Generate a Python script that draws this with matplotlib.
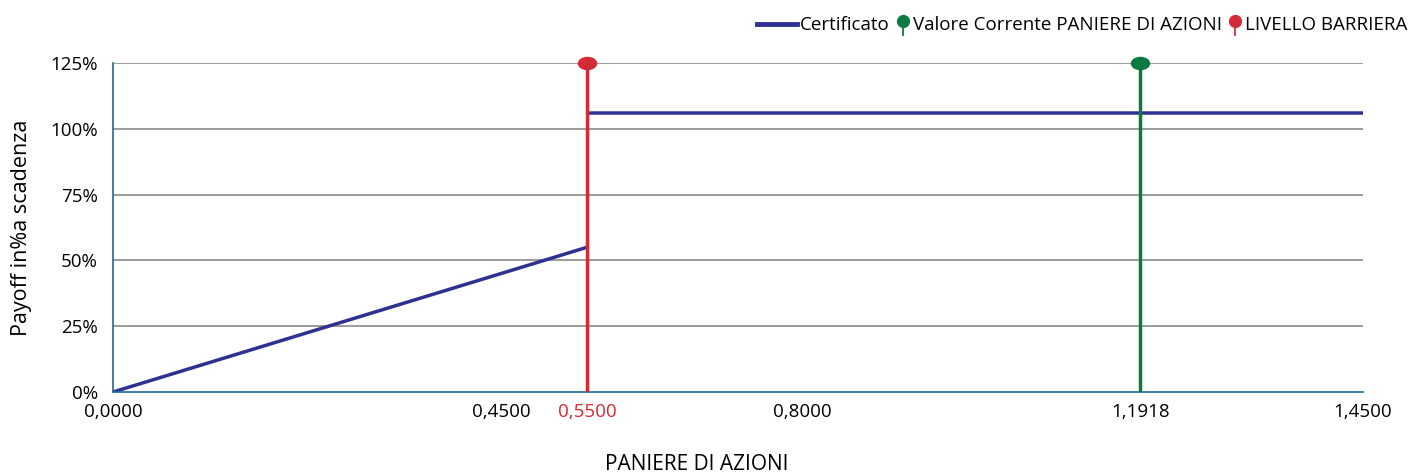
import matplotlib.pyplot as plt
import numpy as np
from matplotlib.path import Path
from matplotlib.transforms import Affine2D
from matplotlib.lines import Line2D
from matplotlib.legend_handler import HandlerBase

plt.rcParams["font.family"] = ["Open Sans", "DejaVu Sans"]

# data
cert_x = [0.0, 0.55, np.nan, 0.55, 1.45]
cert_y = [0.0, 0.55, np.nan, 1.06, 1.06]
barrier = 0.55
current = 1.1918
top_level = 1.25
x_ticks = [0.0, 0.45, 0.55, 0.8, 1.1918, 1.45]
x_labels = ["0,0000", "0,4500", "0,5500", "0,8000", "1,1918", "1,4500"]
y_ticks = [0, 0.25, 0.5, 0.75, 1.0, 1.25]
y_labels = ["0%", "25%", "50%", "75%", "100%", "125%"]

BLUE = "#2e3192"
RED = "#d42a34"
GREEN = "#0a7a40"
AXIS = "#1f6a92"
GRID = "#8a8a8a"

ellipse = Path.unit_circle().transformed(Affine2D().scale(1.5, 1.0))


class PinHandler(HandlerBase):
    def __init__(self, color):
        super().__init__()
        self.color = color

    def create_artists(self, legend, orig_handle, xdescent, ydescent,
                       width, height, fontsize, trans):
        cx = width / 2 - xdescent
        stem = Line2D([cx, cx], [-ydescent - 3, height * 0.6], color=self.color,
                      lw=1.3, transform=trans)
        head = Line2D([cx], [height * 0.75], marker="o", ms=8.5,
                      color=self.color, transform=trans)
        return [stem, head]


class LongLineHandler(HandlerBase):
    def create_artists(self, legend, orig_handle, xdescent, ydescent,
                       width, height, fontsize, trans):
        y = height / 2 - ydescent
        line = Line2D([-xdescent - 18, width - xdescent], [y, y], color=BLUE,
                      lw=3.5, transform=trans)
        return [line]


fig = plt.figure(figsize=(14.1, 4.72), dpi=100)
ax = fig.add_axes([113 / 1410, 1 - 392 / 472, 1250 / 1410, 329 / 472])

for t in y_ticks[1:]:
    ax.axhline(t, color=GRID, lw=1.2, zorder=1)

ax.plot([barrier, barrier], [0, top_level], color=RED, lw=2.5, zorder=3)
ax.plot([current, current], [0, top_level], color=GREEN, lw=2.5, zorder=3)
ax.plot([barrier], [top_level], marker=ellipse, ms=13, color=RED, zorder=4,
        clip_on=False)
ax.plot([current], [top_level], marker=ellipse, ms=13, color=GREEN, zorder=4,
        clip_on=False)
ax.plot(cert_x, cert_y, color=BLUE, lw=2.5, zorder=2, solid_capstyle="butt")

ax.set_xlim(0, 1.45)
ax.set_ylim(0, 1.25)
ax.set_xticks(x_ticks)
ax.set_xticklabels(x_labels, fontsize=13.5)
ax.get_xticklabels()[2].set_color(RED)
ax.set_yticks(y_ticks)
ax.set_yticklabels(y_labels, fontsize=13.5)
ax.tick_params(length=0, pad=11)
ax.tick_params(axis="x", pad=8)
for s in ["top", "right"]:
    ax.spines[s].set_visible(False)
for s in ["left", "bottom"]:
    ax.spines[s].set_color(AXIS)
    ax.spines[s].set_linewidth(1.2)

fig.text(22 / 1410, 1 - 228 / 472, "Payoff in%a scadenza", fontsize=15.5,
         rotation=90, ha="center", va="center")
fig.text(697 / 1410, 1 - 464 / 472, "PANIERE DI AZIONI", fontsize=15,
         ha="center", va="center")

h_cert = Line2D([], [], color=BLUE, lw=3)
h_cur = Line2D([], [], color=GREEN)
h_bar = Line2D([], [], color=RED)
leg = fig.legend([h_cert, h_cur, h_bar],
                 ["Certificato", "Valore Corrente PANIERE DI AZIONI", "LIVELLO BARRIERA"],
                 handler_map={h_cert: LongLineHandler(), h_cur: PinHandler(GREEN),
                              h_bar: PinHandler(RED)},
                 loc="upper right", bbox_to_anchor=(1.011, 1.003), ncol=3,
                 frameon=False, fontsize=13.5, handlelength=0.8,
                 handletextpad=0.15, columnspacing=0.3, borderaxespad=0.55)

fig.savefig("out.png", dpi=100)
